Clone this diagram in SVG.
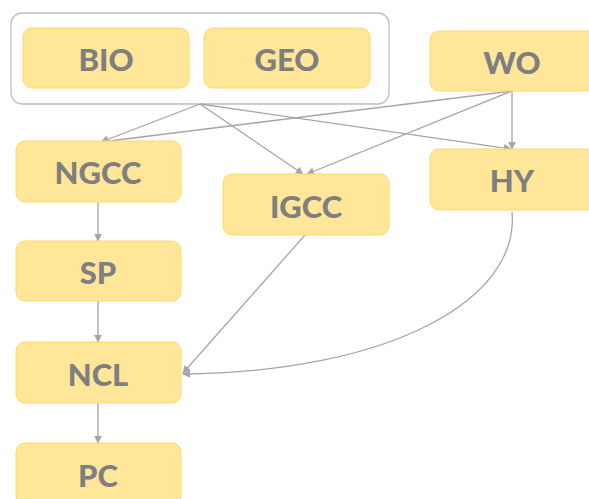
<svg xmlns="http://www.w3.org/2000/svg" width="589" height="499" viewBox="0 0 589 499">
<defs>
<style>
.n{fill:#FFE699;stroke:#FFD966;stroke-width:1}
.t{font-family:Lato,"Open Sans",sans-serif;font-weight:900;font-size:31px;fill:#7F7F7F;text-anchor:middle;dominant-baseline:central}
.c{fill:none;stroke:#A5A5A5;stroke-width:1.3;marker-end:url(#a)}
</style>
<marker id="a" viewBox="0 0 10 10" refX="9" refY="5" markerWidth="8" markerHeight="8" orient="auto" markerUnits="userSpaceOnUse"><path d="M0,0L10,5L0,10z" fill="#A5A5A5"/></marker>
</defs>
<rect id="group" x="11" y="13" width="378" height="91" rx="11" fill="#fff" stroke="#BFBFBF" stroke-width="1.3"/>
<g id="connectors">
<path class="c" d="M200,104L101,142"/>
<path class="c" d="M200,104L303,174"/>
<path class="c" d="M200,104L511,149"/>
<path class="c" d="M512,91L101,142"/>
<path class="c" d="M512,91L307,174"/>
<path class="c" d="M512,91L512,149"/>
<path class="c" d="M98,202L98,241"/>
<path class="c" d="M98,301L98,342"/>
<path class="c" d="M98,403L98,443"/>
<path class="c" d="M305,235L183,373"/>
<path class="c" d="M512,212C520,300 390,372 183,374"/>
</g>
<g id="BIO"><rect class="n" x="23" y="28" width="166" height="60" rx="9"/><text class="t" x="106" y="59">BIO</text></g>
<g id="GEO"><rect class="n" x="204" y="28" width="166" height="60" rx="9"/><text class="t" x="287" y="59">GEO</text></g>
<g id="WO"><rect class="n" x="430" y="31" width="166" height="60" rx="9"/><text class="t" x="512" y="62">WO</text></g>
<g id="HY"><rect class="n" x="430" y="149" width="166" height="61" rx="9"/><text class="t" x="512" y="180">HY</text></g>
<g id="NGCC"><rect class="n" x="16" y="141" width="165" height="61" rx="9"/><text class="t" x="98" y="172">NGCC</text></g>
<g id="IGCC"><rect class="n" x="223" y="174" width="166" height="61" rx="9"/><text class="t" x="306" y="206">IGCC</text></g>
<g id="SP"><rect class="n" x="16" y="241" width="165" height="60" rx="9"/><text class="t" x="98" y="272">SP</text></g>
<g id="NCL"><rect class="n" x="16" y="342" width="165" height="61" rx="9"/><text class="t" x="98" y="374">NCL</text></g>
<g id="PC"><rect class="n" x="16" y="443" width="165" height="62" rx="9"/><text class="t" x="98" y="475">PC</text></g>
</svg>
